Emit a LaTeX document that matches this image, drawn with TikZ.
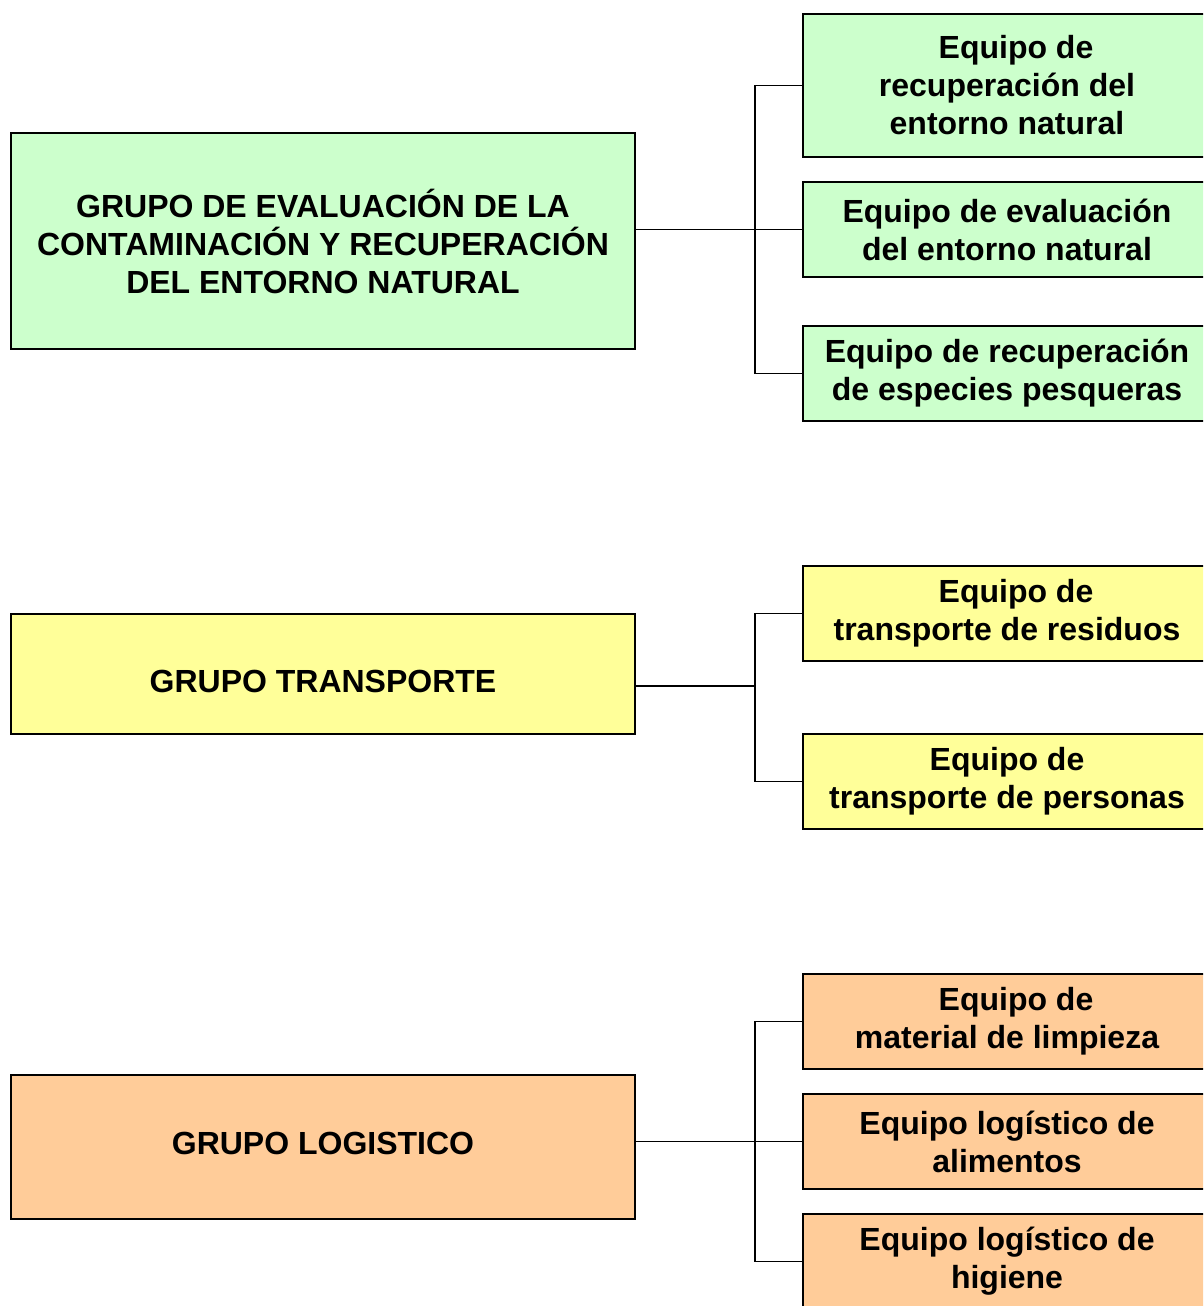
\documentclass[tikz,border=0pt]{standalone}
\usepackage{fontspec}
\setmainfont{Liberation Sans}
\usepackage{xcolor}
\usetikzlibrary{positioning}
\definecolor{verde}{HTML}{CCFFCC}
\definecolor{amarillo}{HTML}{FFFF99}
\definecolor{naranja}{HTML}{FFCC99}
\tikzstyle{grupo} = [rectangle, minimum width=624pt, inner sep=0pt, text centered, draw=black, line width=2pt, font=\fontsize{32}{38}\selectfont\bfseries]
\tikzstyle{equipo} = [rectangle, minimum width=408pt, minimum height=95pt, inner sep=0pt, text centered, draw=black, line width=2pt, font=\fontsize{32}{38}\selectfont\bfseries]
\tikzstyle{linea} = [line width=1.5pt, black]

\begin{document}
\begin{tikzpicture}[x=1pt, y=-1pt]
        \useasboundingbox (0,0) rectangle (1203,1306);
        \clip (0,0) rectangle (1203,1306);

        % grupo 1
        \node (grupo_evaluacion) [grupo, fill=verde, minimum height=216pt, align=center] at (323,241)
        {GRUPO DE EVALUACIÓN DE LA\\ CONTAMINACIÓN Y RECUPERACIÓN\\ DEL ENTORNO NATURAL};
        \node (equipo_recuperacion) [equipo, fill=verde, minimum height=143pt, align=center] at (1007,85.5)
        {\hspace*{18pt}Equipo de\\ recuperación del\\ entorno natural};
        \node (equipo_evaluacion) [equipo, fill=verde, align=center] at (1007,229.5)
        {Equipo de evaluación\\ del entorno natural};
        \node (recuperacion_pesquera) [equipo, fill=verde, align=center] at (1007,373.5)
        {Equipo de recuperación\\ de especies pesqueras};

        % grupo 2
        \node (grupo_transporte) [grupo, fill=amarillo, minimum height=120pt, text height=37pt, text depth=0pt, align=center] at (323,674)
        {GRUPO TRANSPORTE};
        \node (transporte_residuos) [equipo, fill=amarillo, align=center] at (1007,613.5)
        {\hspace*{18pt}Equipo de\\ transporte de residuos};
        \node (transporte_personas) [equipo, fill=amarillo, align=center] at (1007,781.5)
        {Equipo de\\ transporte de personas};

        % grupo 3
        \node (grupo_logistico) [grupo, fill=naranja, minimum height=144pt, text height=23pt, text depth=8pt, align=center] at (323,1147)
        {GRUPO LOGISTICO};
        \node (material_limpieza) [equipo, fill=naranja, align=center] at (1007,1021.5)
        {\hspace*{18pt}Equipo de\\ material de limpieza};
        \node (logistico_alimentos) [equipo, fill=naranja, align=center] at (1007,1141.5)
        {Equipo logístico de\\ alimentos};
        \node (logistico_higiene) [equipo, fill=naranja, align=center] at (1007,1261.5)
        {Equipo logístico de\\ higiene};

        \coordinate (bus_a) at (755,229.5);
        \coordinate (bus_b) at (755,686);
        \coordinate (bus_c) at (755,1141.5);

        \draw [linea] (grupo_evaluacion.east |- equipo_evaluacion) -- (equipo_evaluacion.west);
        \draw [linea] (equipo_recuperacion.west) -| (bus_a) |- (recuperacion_pesquera.west);
        \draw [linea] (grupo_transporte.east |- bus_b) -- (bus_b);
        \draw [linea] (transporte_residuos.west) -| (bus_b) |- (transporte_personas.west);
        \draw [linea] (grupo_logistico.east |- logistico_alimentos) -- (logistico_alimentos.west);
        \draw [linea] (material_limpieza.west) -| (bus_c) |- (logistico_higiene.west);

    \end{tikzpicture}
\end{document}
